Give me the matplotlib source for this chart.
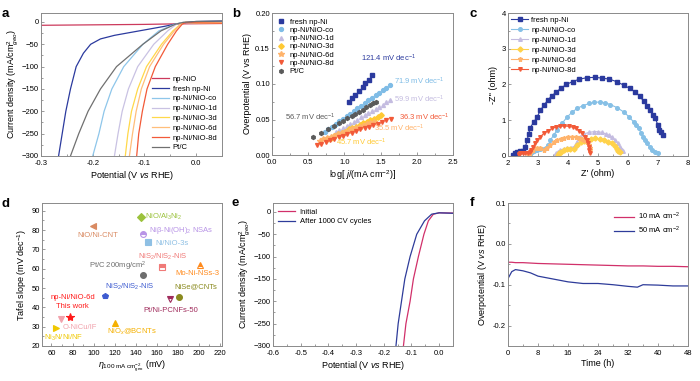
import matplotlib
matplotlib.use("Agg")
import matplotlib.pyplot as plt
from matplotlib.ticker import MultipleLocator, AutoMinorLocator

plt.rcParams['font.family'] = ['Liberation Sans', 'DejaVu Sans']
plt.rcParams['mathtext.fontset'] = 'custom'
plt.rcParams['mathtext.rm'] = 'Liberation Sans'
plt.rcParams['mathtext.it'] = 'Liberation Sans:italic'

# ---- panel a: HER polarisation curves ----
a_names = ['np-NiO', 'fresh np-Ni', 'np-Ni/NiO-co', 'np-Ni/NiO-1d',
           'np-Ni/NiO-3d', 'np-Ni/NiO-6d', 'np-Ni/NiO-8d', 'Pt/C']
a_colors = ['#cc3a5c', '#2b3a9e', '#8ec6ea', '#c9c2e3', '#ffd84a', '#ffbe7a', '#f25a38', '#707070']
a_x = [
    [-0.3, -0.2, -0.1, -0.05, 0.0, 0.05],
    [-0.266, -0.259, -0.252, -0.243, -0.232, -0.218, -0.204, -0.185, -0.158, -0.11, -0.062, -0.041, -0.02, 0.0, 0.05],
    [-0.2, -0.188, -0.178, -0.163, -0.14, -0.103, -0.072, -0.041, -0.025, 0.0, 0.05],
    [-0.158, -0.151, -0.143, -0.131, -0.113, -0.082, -0.055, -0.038, -0.025, 0.0, 0.05],
    [-0.137, -0.132, -0.125, -0.113, -0.096, -0.067, -0.045, -0.03, -0.022, 0.0, 0.05],
    [-0.129, -0.123, -0.116, -0.106, -0.09, -0.063, -0.042, -0.03, -0.021, 0.0, 0.05],
    [-0.115, -0.111, -0.104, -0.095, -0.079, -0.055, -0.038, -0.027, -0.02, 0.0, 0.05],
    [-0.243, -0.227, -0.209, -0.185, -0.154, -0.103, -0.068, -0.04, -0.025, 0.0, 0.05],
]
a_y = [
    [-7.5, -6.5, -5.5, -4.5, -4.0, -3.5],
    [-300, -250, -200, -150, -100, -70, -50, -38, -30, -20, -10, -5, -1, 1, 2],
    [-300, -250, -200, -150, -100, -50, -20, -5, -1, -2, -3],
    [-300, -250, -200, -150, -100, -50, -20, -5, -1, -2, -3],
    [-300, -250, -200, -150, -100, -50, -20, -5, -1, -2, -2.5],
    [-300, -250, -200, -150, -100, -50, -20, -5, -1, -2, -2.5],
    [-300, -250, -200, -150, -100, -50, -20, -5, -1, -2, -3],
    [-300, -250, -200, -150, -100, -50, -20, -5, -1, 1, 2],
]

# ---- panel b: Tafel plots ----
b_names = ['fresh np-Ni', 'np-Ni/NiO-co', 'np-Ni/NiO-1d', 'np-Ni/NiO-3d',
           'np-Ni/NiO-6d', 'np-Ni/NiO-8d', 'Pt/C']
b_colors = ['#2b3a9e', '#7fbce6', '#c4bce0', '#ffc933', '#ffb36b', '#f25a38', '#5a5a5a']
b_markers = ['s', 'o', '^', 'D', '*', 'v', 'h']
b_x = [
    [1.06, 1.11, 1.15, 1.20, 1.25, 1.29, 1.34, 1.38],
    [0.73, 0.78, 0.83, 0.88, 0.93, 0.98, 1.03, 1.08, 1.13, 1.18, 1.23, 1.28, 1.33, 1.38, 1.43, 1.48, 1.53, 1.58, 1.63],
    [0.88, 0.93, 0.98, 1.03, 1.08, 1.13, 1.18, 1.23, 1.28, 1.33, 1.38, 1.43, 1.48, 1.53, 1.58, 1.63],
    [0.76, 0.81, 0.86, 0.91, 0.96, 1.01, 1.06, 1.11, 1.16, 1.21, 1.26, 1.31, 1.36, 1.41, 1.46, 1.51],
    [0.66, 0.71, 0.76, 0.81, 0.86, 0.91, 0.96, 1.01, 1.06, 1.11, 1.16, 1.21, 1.26, 1.31, 1.36, 1.41],
    [0.62, 0.68, 0.74, 0.80, 0.86, 0.92, 0.98, 1.04, 1.10, 1.16, 1.22, 1.28, 1.34, 1.40, 1.46, 1.52, 1.58, 1.64],
    [0.57, 0.68, 0.77, 0.85, 0.92, 0.98, 1.04, 1.10, 1.15, 1.20, 1.25, 1.30, 1.35, 1.40, 1.43],
]
b_y = [
    [0.075, 0.080, 0.085, 0.090, 0.096, 0.101, 0.106, 0.112],
    [0.033, 0.037, 0.040, 0.044, 0.048, 0.051, 0.055, 0.058, 0.062, 0.066, 0.069, 0.073, 0.077, 0.080, 0.084, 0.087, 0.091, 0.095, 0.099],
    [0.032, 0.035, 0.038, 0.041, 0.044, 0.047, 0.050, 0.053, 0.056, 0.059, 0.062, 0.065, 0.068, 0.071, 0.074, 0.077],
    [0.022, 0.024, 0.027, 0.029, 0.031, 0.033, 0.036, 0.038, 0.040, 0.042, 0.045, 0.047, 0.049, 0.051, 0.054, 0.056],
    [0.020, 0.022, 0.024, 0.025, 0.027, 0.029, 0.031, 0.033, 0.034, 0.036, 0.038, 0.040, 0.041, 0.043, 0.045, 0.047],
    [0.014, 0.016, 0.018, 0.021, 0.023, 0.025, 0.027, 0.029, 0.031, 0.034, 0.036, 0.038, 0.040, 0.042, 0.044, 0.047, 0.049, 0.051],
    [0.025, 0.031, 0.036, 0.041, 0.045, 0.048, 0.052, 0.055, 0.058, 0.061, 0.064, 0.067, 0.070, 0.073, 0.074],
]
b_slopes = ['121.4', '71.9', '59.9', '45.7', '35.5', '36.3', '56.7']
b_label_pos = [(1.23, 0.136), (1.68, 0.104), (1.68, 0.078), (0.88, 0.018),
               (1.41, 0.037), (1.75, 0.053), (0.18, 0.053)]

# ---- panel c: Nyquist plots ----
c_names = b_names[:6]
c_colors = ['#2b3a9e', '#86c0e6', '#c4bce0', '#ffd24a', '#ffb36b', '#f25a38']
c_markers = ['s', 'o', '^', 'D', '*', 'v']
c_x = [
    [2.17, 2.22, 2.30, 2.41, 2.50, 2.58, 2.64, 2.69, 2.74, 2.86, 2.97, 3.08, 3.20, 3.32, 3.46, 3.61, 3.77, 3.94, 4.15,
     4.38, 4.63, 4.89, 5.13, 5.38, 5.62, 5.86, 6.06, 6.24, 6.40, 6.52, 6.64, 6.74, 6.84, 6.91, 6.99, 7.04, 7.10, 7.16],
    [2.74, 2.80, 2.88, 2.97, 3.08, 3.19, 3.28, 3.34, 3.41, 3.52, 3.63, 3.80, 3.97, 4.13, 4.30, 4.50, 4.71, 4.88,
     5.06, 5.24, 5.41, 5.64, 5.86, 6.03, 6.19, 6.28, 6.36, 6.43, 6.50, 6.57, 6.63, 6.72, 6.80, 6.90, 7.00],
    [3.55, 3.60, 3.67, 3.74, 3.85, 3.97, 4.10, 4.22, 4.30, 4.40, 4.52, 4.69, 4.86, 5.00, 5.13, 5.25, 5.36, 5.48,
     5.58, 5.67, 5.74, 5.79, 5.82],
    [3.66, 3.70, 3.76, 3.86, 3.97, 4.08, 4.19, 4.30, 4.42, 4.52, 4.63, 4.77, 4.91, 5.05, 5.19, 5.33, 5.47, 5.56,
     5.63, 5.68, 5.72],
    [2.68, 2.72, 2.78, 2.84, 2.96, 3.08, 3.20, 3.30, 3.41, 3.52, 3.63, 3.75, 3.86, 4.00, 4.13, 4.25, 4.36, 4.46,
     4.54, 4.62, 4.69, 4.72, 4.74],
    [2.35, 2.38, 2.41, 2.50, 2.58, 2.66, 2.74, 2.78, 2.83, 2.90, 2.97, 3.08, 3.19, 3.33, 3.47, 3.60, 3.74, 3.88,
     4.02, 4.15, 4.28, 4.38, 4.47, 4.55, 4.62, 4.66, 4.69, 4.71, 4.72],
]
c_y = [
    [0.03, 0.08, 0.12, 0.13, 0.14, 0.25, 0.45, 0.62, 0.79, 0.95, 1.09, 1.28, 1.42, 1.56, 1.68, 1.79, 1.90, 2.00, 2.08,
     2.15, 2.19, 2.20, 2.18, 2.15, 2.08, 1.98, 1.89, 1.79, 1.67, 1.53, 1.40, 1.28, 1.16, 1.05, 0.88, 0.74, 0.66, 0.58],
    [0.04, 0.10, 0.15, 0.17, 0.19, 0.19, 0.22, 0.30, 0.44, 0.58, 0.72, 0.91, 1.09, 1.22, 1.33, 1.41, 1.47, 1.50,
     1.51, 1.49, 1.44, 1.35, 1.23, 1.10, 0.95, 0.86, 0.77, 0.65, 0.53, 0.44, 0.35, 0.26, 0.18, 0.12, 0.08],
    [0.02, 0.07, 0.12, 0.16, 0.20, 0.22, 0.22, 0.28, 0.40, 0.52, 0.61, 0.66, 0.68, 0.68, 0.66, 0.62, 0.58, 0.52,
     0.44, 0.35, 0.25, 0.18, 0.14],
    [0.02, 0.07, 0.12, 0.16, 0.19, 0.19, 0.20, 0.30, 0.39, 0.43, 0.46, 0.48, 0.49, 0.47, 0.44, 0.40, 0.35, 0.28,
     0.20, 0.15, 0.11],
    [0.02, 0.08, 0.13, 0.18, 0.21, 0.21, 0.18, 0.22, 0.30, 0.38, 0.44, 0.48, 0.50, 0.52, 0.53, 0.52, 0.51, 0.48,
     0.44, 0.38, 0.30, 0.22, 0.16],
    [0.02, 0.05, 0.07, 0.08, 0.08, 0.09, 0.11, 0.17, 0.25, 0.35, 0.44, 0.54, 0.63, 0.71, 0.77, 0.81, 0.83, 0.84,
     0.83, 0.81, 0.77, 0.71, 0.63, 0.54, 0.44, 0.35, 0.25, 0.16, 0.08],
]

# ---- panel d: comparison with reported catalysts ----
d_names = ['NiO/Al$_3$Ni$_2$', 'NiO/Ni-CNT', 'Ni\u03b2-Ni(OH)$_2$ NSAs', 'Ni/NiO-3s',
           'NiS$_2$/NiS$_2$-NiS', 'Mo-Ni-NSs-3', 'Pt/C 200mg/cm$^2$', 'NiS$_2$/NiS$_2$-NiS',
           'NiSe@CNTs', 'Pt/Ni-PCNFs-50', 'np-Ni/NiO-6d\nThis work', 'O-NiCu/IF',
           'Ni$_3$N/Ni/NF', 'NiO$_x$@BCNTs']
d_eta = [144.7, 99.8, 147.2, 151.7, 165.3, 201.0, 146.9, 110.6, 181.0, 172.5, 77.7, 69.5, 64.1, 120.0]
d_tafel = [87.0, 82.2, 78.1, 73.8, 61.1, 62.0, 56.5, 45.9, 45.6, 44.2, 35.2, 33.8, 29.2, 32.1]
d_colors = ['#9bc23c', '#d98a62', '#b894e6', '#8fc0e4', '#f07a78', '#ff8a1c', '#6e6e6e', '#3d5bd0',
            '#8a8a1e', '#a02c5c', '#ff1a1a', '#f2a2ac', '#f0c800', '#f5b000']
d_markers = ['D', '<', 'o', 's', 's', '^', 'o', 'p', 'o', 'v', '*', 'v', '>', '^']
d_fill = ['full', 'full', 'top', 'full', 'top', 'top', 'full', 'full', 'full', 'top', 'full', 'full', 'full', 'full']
d_label_pos = [(148.5, 87.0), (103.6, 77.0), (152.6, 79.8), (158.3, 73.2), (165.3, 66.0), (199.0, 57.7),
               (122.6, 61.1), (134.6, 50.4), (196.9, 50.4), (173.2, 38.3), (79.9, 42.8), (70.4, 29.7),
               (72.0, 24.0), (136.8, 27.4)]
d_label_ha = ['left', 'center', 'left', 'left', 'center', 'center', 'center', 'center', 'center',
              'center', 'center', 'left', 'center', 'center']

# ---- panel e: stability, CV cycling ----
e_names = ['Initial', 'After 1000 CV cycles']
e_colors = ['#d1306a', '#2e3c9a']
e_x = [
    [-0.129, -0.12, -0.105, -0.093, -0.075, -0.055, -0.039, -0.021, 0.0, 0.05],
    [-0.156, -0.148, -0.136, -0.124, -0.105, -0.081, -0.053, -0.027, 0.0, 0.05],
]
e_y = [
    [-300, -250, -200, -150, -100, -50, -20, -5, -2, -2.5],
    [-300, -250, -200, -150, -100, -50, -20, -5, -2, -3],
]

# ---- panel f: chronopotentiometry ----
f_names = ['10 mA cm$^{-2}$', '50 mA cm$^{-2}$']
f_colors = ['#d1306a', '#2e3c9a']
f_time = [0, 1, 2, 4, 6, 8, 12, 16, 20, 24, 28, 32, 34.5, 36, 40, 44, 48]
f_eta = [
    [-0.045, -0.045, -0.046, -0.046, -0.047, -0.048, -0.049, -0.050, -0.051, -0.052, -0.053, -0.054, -0.054,
     -0.054, -0.055, -0.055, -0.056],
    [-0.085, -0.068, -0.063, -0.066, -0.071, -0.079, -0.086, -0.093, -0.097, -0.097, -0.100, -0.104, -0.106,
     -0.100, -0.101, -0.103, -0.103],
]

TICK_FS = 5.5
LABEL_FS = 6.5
LEG_FS = 5.5


def rect(l, t, r, b):
    return [l / 700, 1 - b / 381, (r - l) / 700, (b - t) / 381]


def style(ax, xmaj, ymaj):
    for s in ax.spines.values():
        s.set_color('#8a8a8a')
        s.set_linewidth(0.7)
    ax.xaxis.set_major_locator(MultipleLocator(xmaj))
    ax.yaxis.set_major_locator(MultipleLocator(ymaj))
    ax.xaxis.set_minor_locator(AutoMinorLocator(2))
    ax.yaxis.set_minor_locator(AutoMinorLocator(2))
    ax.tick_params(which='both', direction='in', labelsize=TICK_FS, color='#8a8a8a', width=0.6)
    ax.tick_params(axis='y', pad=1.5)
    ax.tick_params(axis='x', pad=3)
    ax.tick_params(which='major', length=2.5)
    ax.tick_params(which='minor', length=1.5)


def main():
    fig = plt.figure(figsize=(7, 3.81), dpi=100)

    # a
    ax = fig.add_axes(rect(41, 13, 222, 156))
    for name, col, xs, ys in zip(a_names, a_colors, a_x, a_y):
        ax.plot(xs, ys, color=col, lw=0.9, label=name)
    ax.set_xlim(-0.3, 0.05)
    ax.set_ylim(-300, 20)
    style(ax, 0.1, 50)
    ax.xaxis.set_major_formatter(plt.FuncFormatter(lambda v, p: '%.1f' % v))
    ax.set_xlabel('Potential (V $\\it{vs}$ RHE)', fontsize=LABEL_FS, labelpad=1.5)
    ax.set_ylabel('Current density (mA/cm$^2_{geo}$)', fontsize=LABEL_FS, labelpad=1)
    ax.legend(loc='lower right', fontsize=LEG_FS, frameon=False, handlelength=2.2,
              labelspacing=0.32, handletextpad=0.5, borderaxespad=0.2)

    # b
    ax = fig.add_axes(rect(272, 13, 453, 155))
    for name, col, mk, xs, ys in zip(b_names, b_colors, b_markers, b_x, b_y):
        ms = 4 if mk == '*' else 2.8
        ax.plot(xs, ys, ls='none', marker=mk, ms=ms, color=col, mec=col, label=name)
    for col, sl, (tx, ty) in zip(b_colors, b_slopes, b_label_pos):
        ax.text(tx, ty, sl + ' mV dec$^{-1}$', color=col, fontsize=LEG_FS, va='center', ha='left')
    ax.set_xlim(0, 2.5)
    ax.set_ylim(0, 0.2)
    style(ax, 0.5, 0.05)
    ax.xaxis.set_major_formatter(plt.FuncFormatter(lambda v, p: '%.1f' % v))
    ax.yaxis.set_major_formatter(plt.FuncFormatter(lambda v, p: '%.2f' % v))
    ax.set_xlabel('log[ $\\it{j}$/(mA cm$^{-2}$)]', fontsize=LABEL_FS, labelpad=1.5)
    ax.set_ylabel('Overpotential (V vs RHE)', fontsize=LABEL_FS, labelpad=2)
    ax.legend(loc='upper left', fontsize=LEG_FS, frameon=False, handlelength=1.0,
              labelspacing=0.12, handletextpad=0.6, borderaxespad=0.3)

    # c
    ax = fig.add_axes(rect(508, 13, 688, 156))
    for name, col, mk, xs, ys in zip(c_names, c_colors, c_markers, c_x, c_y):
        ms = 3.6 if mk == '*' else 2.6
        ax.plot(xs, ys, color=col, lw=0.8, marker=mk, ms=ms, mec=col, label=name)
    ax.set_xlim(2, 8)
    ax.set_ylim(0, 4)
    style(ax, 1, 1)
    ax.set_xlabel("Z' (ohm)", fontsize=LABEL_FS, labelpad=1.5)
    ax.set_ylabel("-Z'' (ohm)", fontsize=LABEL_FS, labelpad=3)
    ax.legend(loc='upper left', fontsize=LEG_FS, frameon=False, handlelength=2.2,
              labelspacing=0.35, handletextpad=0.4, borderaxespad=0.05)

    # d
    ax = fig.add_axes(rect(42, 203, 222, 346))
    for col, mk, fs, xv, yv in zip(d_colors, d_markers, d_fill, d_eta, d_tafel):
        ms = 6 if mk == '*' else 4.2
        ax.plot([xv], [yv], ls='none', marker=mk, ms=ms, color=col, mec=col, mew=0.8,
                fillstyle=fs, markerfacecoloralt='white')
    for name, col, ha, (tx, ty) in zip(d_names, d_colors, d_label_ha, d_label_pos):
        ax.text(tx, ty, name, color=col, fontsize=LEG_FS, ha=ha, va='center', linespacing=1.5)
    ax.set_xlim(51, 222)
    ax.set_ylim(20, 94)
    style(ax, 20, 10)
    ax.set_xlabel('$\\eta_{100\\ \\mathrm{mA\\ cm^{-2}_{geo}}}$ (mV)', fontsize=LABEL_FS, labelpad=1)
    ax.set_ylabel('Tafel slope (mV dec$^{-1}$)', fontsize=LABEL_FS, labelpad=2)

    # e
    ax = fig.add_axes(rect(273, 203, 453, 346))
    for name, col, xs, ys in zip(e_names, e_colors, e_x, e_y):
        ax.plot(xs, ys, color=col, lw=0.9, label=name)
    ax.set_xlim(-0.6, 0.05)
    ax.set_ylim(-300, 20)
    style(ax, 0.1, 50)
    ax.xaxis.set_major_formatter(plt.FuncFormatter(lambda v, p: '%.1f' % v))
    ax.set_xlabel('Potential (V $\\it{vs}$ RHE)', fontsize=LABEL_FS, labelpad=1.5)
    ax.set_ylabel('Current density (mA/cm$^2_{geo}$)', fontsize=LABEL_FS, labelpad=1)
    ax.legend(loc='upper left', fontsize=LEG_FS, frameon=False, handlelength=2.2,
              labelspacing=0.3, handletextpad=0.6, borderaxespad=0.3)

    # f
    ax = fig.add_axes(rect(508, 203, 688, 346))
    for name, col, ys in zip(f_names, f_colors, f_eta):
        ax.plot(f_time, ys, color=col, lw=0.9, label=name)
    ax.set_xlim(0, 48)
    ax.set_ylim(-0.25, 0.1)
    style(ax, 8, 0.1)
    ax.yaxis.set_major_formatter(plt.FuncFormatter(lambda v, p: '%.1f' % v))
    ax.set_xlabel('Time (h)', fontsize=LABEL_FS, labelpad=1.5)
    ax.set_ylabel('Overpotential (V $\\it{vs}$ RHE)', fontsize=LABEL_FS, labelpad=3)
    ax.legend(loc='upper right', fontsize=LEG_FS, frameon=False, handlelength=2.6,
              labelspacing=0.35, handletextpad=0.6, borderaxespad=0.6)

    for letter, px, py in [('a', 2, 17), ('b', 232, 17), ('c', 470, 17),
                           ('d', 2, 207), ('e', 232, 206), ('f', 470, 206)]:
        fig.text(px / 700, 1 - py / 381, letter, fontsize=9.5, fontweight='bold', va='baseline')

    fig.savefig('out.png', dpi=100)


if __name__ == "__main__":
    main()
